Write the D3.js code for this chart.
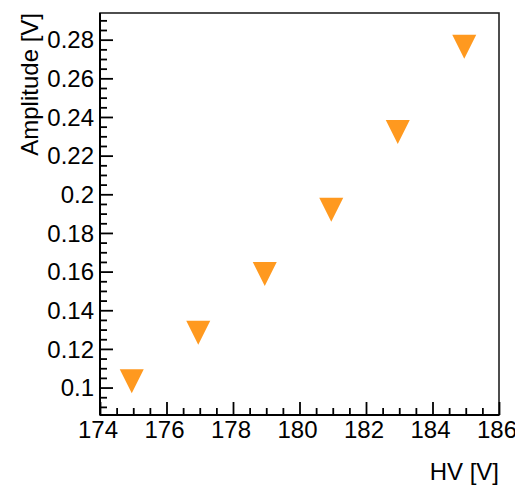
<!DOCTYPE html>
<html>
<head>
<meta charset="utf-8">
<script src="https://cdn.jsdelivr.net/npm/d3@7"></script>
<style>
  html, body { margin: 0; padding: 0; background: #fff; }
  svg { display: block; }
  text { font-family: "Liberation Sans", Arial, Helvetica, sans-serif; fill: #000; }
</style>
</head>
<body>
<div id="chart"></div>
<script>
// Pulse amplitude versus high voltage
const hv = [175, 177, 179, 181, 183, 185];
const amplitude = [0.1033, 0.1284, 0.1587, 0.1920, 0.2322, 0.2764];

const xTicks = [174, 176, 178, 180, 182, 184, 186];
const yTicks = [0.1, 0.12, 0.14, 0.16, 0.18, 0.2, 0.22, 0.24, 0.26, 0.28];
const xTitle = "HV [V]";
const yTitle = "Amplitude [V]";

const W = 515, H = 487;
const frame = { left: 100, top: 13, right: 499, bottom: 415 };

const svg = d3.select("#chart").append("svg")
  .attr("width", W).attr("height", H);

const x = d3.scaleLinear().domain([174, 186]).range([frame.left, frame.right]);
const y = d3.scaleLinear().domain([0.0858, 0.2938]).range([frame.bottom, frame.top]);

// plot frame
svg.append("rect")
  .attr("x", frame.left).attr("y", frame.top)
  .attr("width", frame.right - frame.left).attr("height", frame.bottom - frame.top)
  .attr("fill", "none").attr("stroke", "#222").attr("stroke-width", 1.6);

const fmtY = d => d3.format("~g")(d);

// minor ticks (inside the frame)
const xMinor = d3.range(174, 186.001, 0.5).filter(v => Math.abs(v % 2) > 1e-6);
const yMinor = d3.range(0.09, 0.2938, 0.005).filter(v => !yTicks.some(t => Math.abs(t - v) < 1e-6));

const xAxis = svg.append("g").attr("transform", `translate(0,${frame.bottom})`)
  .call(d3.axisTop(x).tickValues(xTicks).tickSize(13).tickFormat(""))
  .call(g => g.select(".domain").remove());
svg.append("g").attr("transform", `translate(0,${frame.bottom})`)
  .call(d3.axisTop(x).tickValues(xMinor).tickSize(7).tickFormat(""))
  .call(g => g.select(".domain").remove());

const yAxis = svg.append("g").attr("transform", `translate(${frame.left},0)`)
  .call(d3.axisRight(y).tickValues(yTicks).tickSize(13).tickFormat(""))
  .call(g => g.select(".domain").remove());
svg.append("g").attr("transform", `translate(${frame.left},0)`)
  .call(d3.axisRight(y).tickValues(yMinor).tickSize(7).tickFormat(""))
  .call(g => g.select(".domain").remove());

svg.selectAll(".tick line").attr("stroke", "#000").attr("stroke-width", 1.8);

// axis lines drawn over frame
svg.append("line").attr("x1", frame.left).attr("x2", frame.right)
  .attr("y1", frame.bottom).attr("y2", frame.bottom)
  .attr("stroke", "#000").attr("stroke-width", 2);
svg.append("line").attr("x1", frame.left).attr("x2", frame.left)
  .attr("y1", frame.top).attr("y2", frame.bottom)
  .attr("stroke", "#000").attr("stroke-width", 2);

// tick labels
svg.append("g").selectAll("text").data(xTicks).join("text")
  .attr("x", d => x(d) - 2).attr("y", 438)
  .attr("text-anchor", "middle").attr("font-size", 24)
  .text(d => d);

svg.append("g").selectAll("text").data(yTicks).join("text")
  .attr("x", 94).attr("y", d => y(d)).attr("dy", "0.36em")
  .attr("text-anchor", "end").attr("font-size", 24)
  .text(fmtY);

// axis titles
svg.append("text")
  .attr("x", frame.right).attr("y", 480)
  .attr("text-anchor", "end").attr("font-size", 24)
  .text(xTitle);

svg.append("text")
  .attr("transform", `translate(38,${frame.top}) rotate(-90)`)
  .attr("text-anchor", "end").attr("font-size", 24)
  .text(yTitle);

// downward-pointing triangle markers
const triangleDown = {
  draw(ctx, size) {
    const r = Math.sqrt(size) / 2;
    ctx.moveTo(-r, -r);
    ctx.lineTo(r, -r);
    ctx.lineTo(0, r);
    ctx.closePath();
  }
};
const marker = d3.symbol().type(triangleDown).size(24 * 24);

svg.append("g").selectAll("path").data(hv.map((v, i) => [v, amplitude[i]])).join("path")
  .attr("transform", d => `translate(${x(d[0]) - 1.5},${y(d[1])})`)
  .attr("d", marker)
  .attr("fill", "#ff991f");
</script>
</body>
</html>
